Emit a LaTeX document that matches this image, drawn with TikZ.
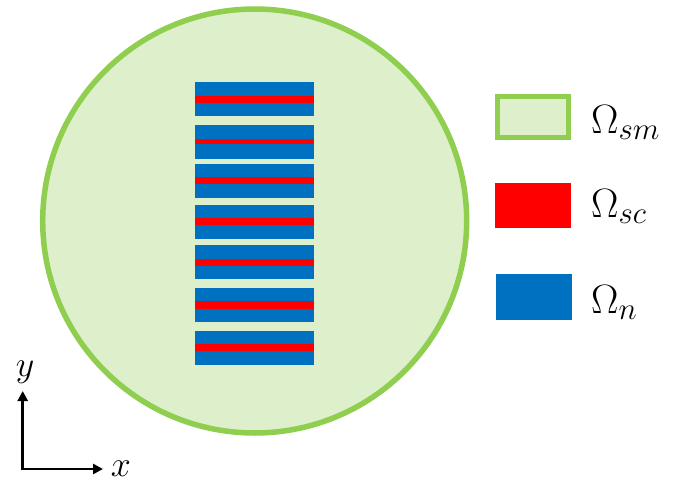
\documentclass[tikz,border=0pt]{standalone}
\usepackage{fix-cm}
\DeclareMathSizes{41}{41}{31}{24}
\usetikzlibrary{arrows.meta}
\definecolor{smfill}{HTML}{DEEFCB}
\definecolor{smdraw}{HTML}{8FCE4E}
\definecolor{nblue}{HTML}{0070C0}
\definecolor{scred}{HTML}{FF0000}
\tikzset{
  legtext/.style={anchor=base west, inner sep=0pt, font=\fontsize{41}{48}\selectfont},
  axlabel/.style={anchor=base, inner sep=0pt, font=\fontsize{36}{42}\selectfont},
  axis/.style={line width=2.6pt, -{Triangle[length=10pt,width=10pt]}}
}
\begin{document}
\begin{tikzpicture}[x=1pt,y=-1pt]
\useasboundingbox (0,0) rectangle (688,482);
% domain
\draw[fill=smfill, draw=smdraw, line width=5.5pt] (254.7,221) circle (212);
% stacks
\foreach \t/\r/\h in {82.3/95.7/7, 125/138.7/5.5, 164/177.3/7, 205/218.3/7, 245.3/259/6.7, 288.3/301.3/7.5, 330.7/344/7}{
  \fill[nblue] (195,\t) rectangle (313.5,\t+34);
  \fill[scred] (195,\r) rectangle (313.5,\r+\h);
}
% legend
\node[draw=smdraw, fill=smfill, line width=5pt, minimum width=71pt, minimum height=41pt, inner sep=0pt] (legsm) at (533,117.3) {};
\node[fill=scred, minimum width=76pt, minimum height=45.6pt, inner sep=0pt] (legsc) at (533,205.5) {};
\node[fill=nblue, minimum width=76pt, minimum height=46pt, inner sep=0pt] (legn) at (534,297) {};
\node[legtext] (tsm) at (591,133) {$\Omega_{sm}$};
\node[legtext] (tsc) at (591,217) {$\Omega_{sc}$};
\node[legtext] (tn) at (591,313) {$\Omega_{n}$};
% axes
\coordinate (o) at (22.7,469);
\coordinate (ye) at (22.7,391);
\coordinate (xe) at (103,469);
\draw[axis] (o) -- (ye);
\draw[axis] (o) -- (xe);
\draw[line width=2.6pt] ([xshift=-1.3pt]o) -- (o);
\node[axlabel] (ly) at (25,376) {$y$};
\node[axlabel] (lx) at (121,476) {$x$};
\end{tikzpicture}
\end{document}
